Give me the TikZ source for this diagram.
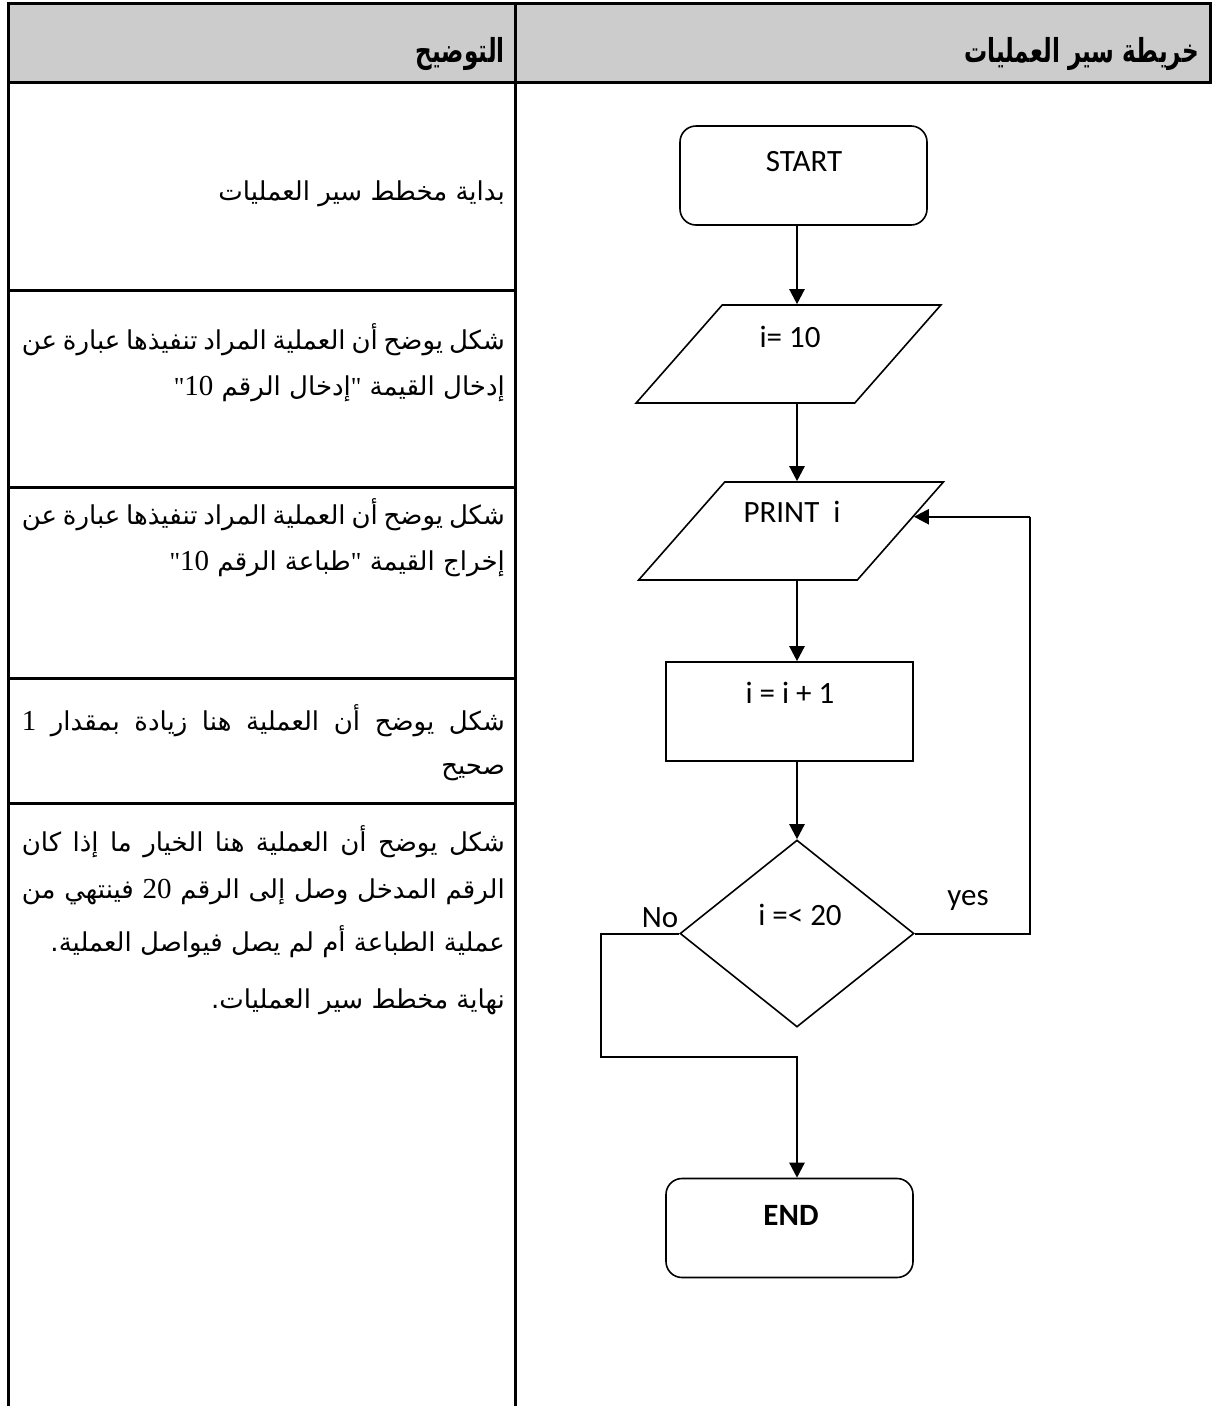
\documentclass[tikz,border=0pt]{standalone}
\usepackage{fontspec}
\usetikzlibrary{shapes.geometric,arrows.meta,positioning,calc}
\TeXXeTstate=1
\newfontfamily\arabicfont[Script=Arabic]{DejaVu Sans}
\newfontfamily\headfont[Script=Arabic,FakeStretch=0.7]{DejaVu Sans}
\newfontfamily\chartfont{Carlito}
\newfontfamily\numfont{Liberation Serif}
\definecolor{headgray}{HTML}{CCCCCC}
\newcommand{\arnum}[1]{\beginL{\numfont\fontsize{29}{29}\selectfont #1}\endL}
\newcommand{\fullline}[1]{\hbox to 483pt{\beginR #1\endR}}

\begin{document}
\begin{tikzpicture}[x=1pt,y=-1pt,
    grid/.style={line width=3pt},
    desc/.style={inner sep=0pt, anchor=east, font=\arabicfont\fontsize{26}{30}\selectfont},
    headtext/.style={inner sep=0pt, anchor=east, font=\headfont\bfseries\fontsize{33}{36}\selectfont},
    chart/.style={inner sep=0pt, font=\chartfont\fontsize{31}{36}\selectfont},
    termbox/.style={draw, line width=1.6pt, rounded corners=16pt, minimum width=247pt, minimum height=99pt},
    iobox/.style={draw, line width=1.6pt, trapezium, trapezium left angle=57, trapezium right angle=123,
        trapezium stretches=true, minimum width=305pt, minimum height=98pt},
    procbox/.style={draw, line width=1.6pt, minimum width=247pt, minimum height=99pt},
    testbox/.style={draw, line width=1.6pt, diamond, aspect=1.25, minimum width=234pt, minimum height=187pt},
    flow/.style={line width=2.4pt, -{Triangle[length=15pt,width=15pt]}},
    link/.style={line width=2pt}]
\useasboundingbox (0,0) rectangle (1213,1406);

% table
\draw[grid, fill=headgray] (8,3) rectangle (1210,82);
\draw[grid] (8,82) -- (8,1406);
\draw[grid] (515,3) -- (515,1406);
\foreach \y in {290,487,678,803}
    \draw[grid] (8,\y) -- (515,\y);

\node[headtext] (headL) at (505,54) {\beginR التوضيح\endR};
\node[headtext] (headR) at (1199,54) {\beginR خريطة سير العمليات\endR};

% explanations
\node[desc] (d1) at (505,194) {\beginR بداية مخطط سير العمليات\endR};
\node[desc] (d2a) at (505,340) {\fullline{شكل يوضح أن العملية المراد تنفيذها عبارة عن}};
\node[desc] (d2b) at (505,389) {\beginR إدخال القيمة {\numfont"}إدخال الرقم \arnum{10}{\numfont"}\endR};
\node[desc] (d3a) at (505,515) {\fullline{شكل يوضح أن العملية المراد تنفيذها عبارة عن}};
\node[desc] (d3b) at (505,564) {\beginR إخراج القيمة {\numfont"}طباعة الرقم \arnum{10}{\numfont"}\endR};
\node[desc] (d4a) at (505,721) {\fullline{شكل يوضح أن العملية هنا زيادة بمقدار \arnum{1}}};
\node[desc] (d4b) at (505,772) {\beginR صحيح\endR};
\node[desc] (d5a) at (505,842) {\fullline{شكل يوضح أن العملية هنا الخيار ما إذا كان}};
\node[desc] (d5b) at (505,892) {\fullline{الرقم المدخل وصل إلى الرقم \arnum{20} فينتهي من}};
\node[desc] (d5c) at (505,942) {\beginR عملية الطباعة أم لم يصل فيواصل العملية.\endR};
\node[desc] (d6) at (505,1002) {\beginR نهاية مخطط سير العمليات.\endR};

% flowchart
\node[termbox] (start) at (803.5,175.5) {};
\node[chart] (startT) at (804,162) {START};
\node[iobox] (init) at (788.5,354) {};
\node[chart] (initT) at (790,337) {i= 10};
\node[iobox] (print) at (791,531) {};
\node[chart] (printT) at (792,512) {PRINT\ \ i};
\node[procbox] (incr) at (789.5,711.5) {};
\node[chart] (incrT) at (790,693) {i = i + 1};
\node[testbox] (test) at (797,933.5) {};
\node[chart] (testT) at (800,915) {i =< 20};
\node[termbox] (stop) at (789.5,1228) {};
\node[chart, font=\chartfont\bfseries\fontsize{31}{36}\selectfont] (stopT) at (791,1215) {END};

\node[chart] (yes) at (968,900) {yes};
\node[chart] (no) at (660,918) {No};

\coordinate (loop) at (1030,0);
\coordinate (nobend) at (601,1057);
\coordinate (back) at ($(print.top right corner)!0.357!(print.bottom right corner)$);

\draw[flow] (start.south -| test) -- (init.north -| test);
\draw[flow] (init.south -| test) -- (print.north -| test);
\draw[flow] (print.south -| test) -- (incr.north -| test);
\draw[flow] (incr.south -| test) -- (test.north);
\draw[link] (test.east) -| (back -| loop);
\draw[flow] (back -| loop) -- (back);
\draw[link] (test.west) -| (nobend) -| ($(stop.north -| test)+(0,-80)$);
\draw[flow] ($(stop.north -| test)+(0,-80)$) -- (stop.north -| test);
\end{tikzpicture}
\end{document}
